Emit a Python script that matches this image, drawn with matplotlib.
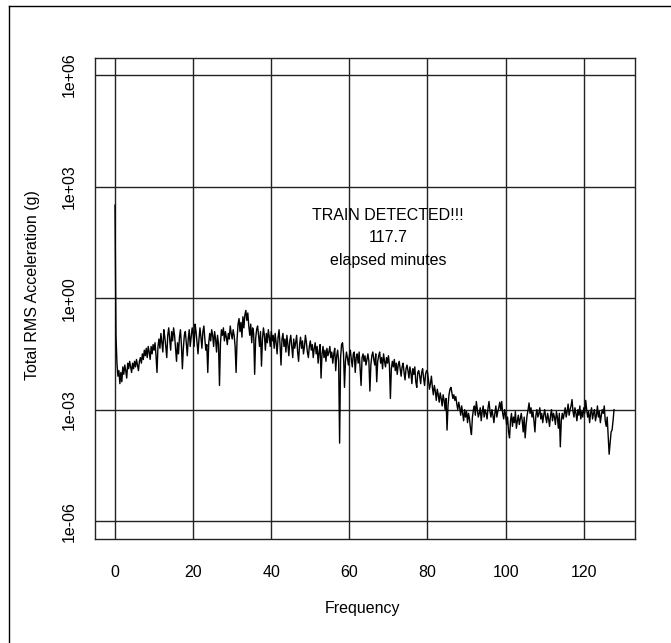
import numpy as np
import matplotlib
matplotlib.use("Agg")
import matplotlib.pyplot as plt
from matplotlib.lines import Line2D

plt.rcParams['font.family'] = ['Liberation Sans', 'DejaVu Sans']

# Frequency axis (Hz): bins 0.25 Hz apart starting at 0
freq_start = 0.0
freq_step = 0.25

# log10 of Total RMS Acceleration (g), 20 bins (5 Hz) per row
log10_accel = [
    2.5, -1.0, -1.75, -2.1, -1.95, -2.3, -2.0, -2.25, -1.85, -2.05, -1.8, -1.95, -2.15, -1.75, -1.9, -1.7, -1.85, -2.0, -1.75, -1.9,
    -1.7, -1.85, -1.65, -1.8, -1.95, -1.7, -1.6, -1.75, -1.5, -1.65, -1.4, -1.55, -1.35, -1.6, -1.3, -1.45, -1.65, -1.3, -1.5, -1.25,
    -1.4, -1.2, -1.55, -2.0, -1.3, -1.1, -1.35, -0.95, -1.2, -1.45, -0.85, -1.05, -1.3, -1.6, -1.0, -0.8, -1.1, -1.4, -0.9, -1.15,
    -0.8, -1.0, -1.35, -1.7, -1.2, -1.5, -1.05, -0.85, -1.25, -1.9, -1.35, -1.0, -0.9, -1.2, -1.55, -1.1, -0.85, -1.3, -1.05, -0.8,
    -0.95, -1.3, -0.7, -0.9, -1.2, -1.5, -1.1, -0.8, -1.05, -1.35, -0.9, -0.75, -1.1, -1.4, -1.25, -2.0, -1.2, -0.95, -1.15, -0.85,
    -1.0, -1.3, -0.9, -1.1, -1.45, -1.0, -1.25, -2.35, -1.2, -0.85, -1.0, -0.8, -1.15, -0.9, -1.05, -1.25, -0.95, -1.1, -0.75, -0.95,
    -1.1, -0.85, -1.0, -1.3, -2.0, -1.1, -0.7, -0.55, -0.9, -0.65, -1.05, -0.5, -0.8, -0.45, -0.33, -0.6, -0.4, -0.75, -1.0, -0.7,
    -1.2, -0.8, -0.95, -2.05, -1.1, -0.85, -0.75, -1.0, -1.3, -0.9, -1.83, -1.1, -0.8, -1.0, -1.4, -0.95, -1.2, -0.85, -1.05, -1.3,
    -0.9, -1.15, -1.0, -1.35, -0.95, -1.2, -1.5, -1.05, -0.85, -1.25, -1.8, -1.1, -0.95, -1.3, -1.1, -1.45, -1.0, -1.25, -1.55, -1.15,
    -1.0, -1.3, -1.6, -1.1, -1.35, -1.2, -1.0, -1.45, -1.7, -1.25, -1.05, -1.35, -1.15, -1.5, -1.3, -1.0, -1.2, -1.45, -1.6, -1.3,
    -1.15, -1.4, -1.25, -1.6, -1.35, -1.2, -1.5, -1.3, -1.75, -1.45, -1.25, -2.15, -1.5, -1.3, -1.6, -1.4, -1.7, -1.35, -1.55, -1.45,
    -1.3, -1.6, -1.45, -1.75, -1.5, -1.35, -1.95, -1.55, -1.4, -1.7, -3.9, -1.6, -1.25, -1.2, -1.5, -2.4, -1.7, -1.45, -1.6, -1.8,
    -1.55, -1.4, -1.65, -1.85, -1.5, -1.45, -2.0, -1.6, -1.5, -1.75, -1.45, -1.9, -2.35, -1.6, -1.5, -1.7, -1.55, -1.8, -1.65, -1.5,
    -1.7, -2.5, -1.8, -1.55, -1.45, -1.65, -1.8, -1.5, -2.25, -1.7, -1.55, -1.45, -1.75, -1.6, -1.9, -1.5, -1.7, -1.85, -1.6, -1.75,
    -1.55, -1.8, -2.7, -1.9, -1.7, -1.85, -1.65, -1.95, -1.75, -2.05, -1.8, -1.7, -1.9, -2.1, -1.85, -1.75, -2.0, -2.2, -1.9, -1.8,
    -1.95, -2.15, -1.85, -2.0, -2.3, -1.9, -2.05, -1.85, -2.25, -2.4, -2.0, -1.95, -2.1, -2.3, -2.0, -1.9, -2.15, -2.35, -2.05, -1.95,
    -2.0, -2.2, -2.45, -2.3, -2.1, -2.4, -2.6, -2.35, -2.5, -2.75, -2.45, -2.6, -2.8, -2.55, -2.7, -2.9, -2.6, -2.75, -3.0, -2.7,
    -3.55, -2.9, -2.6, -2.45, -2.4, -2.55, -2.7, -2.6, -2.75, -2.65, -2.85, -3.0, -2.8, -2.95, -3.15, -2.9, -3.1, -3.3, -3.0, -3.2,
    -3.05, -3.35, -3.1, -3.25, -3.5, -3.67, -3.2, -3.0, -2.9, -3.15, -2.78, -3.0, -3.2, -3.1, -2.95, -3.3, -3.05, -2.9, -3.2, -3.0,
    -3.1, -3.25, -2.95, -2.78, -3.05, -3.2, -3.0, -3.15, -3.35, -3.1, -2.9, -3.2, -3.05, -2.95, -2.8, -3.0, -2.78, -3.1, -3.25, -3.0,
    -3.15, -3.4, -3.2, -3.6, -3.76, -3.3, -3.1, -3.45, -3.2, -3.35, -3.05, -3.5, -3.3, -3.15, -3.4, -3.25, -3.1, -3.3, -3.6, -3.2,
    -3.76, -3.4, -3.15, -3.0, -2.82, -3.1, -2.95, -3.2, -3.05, -3.3, -3.6, -3.15, -3.0, -3.2, -3.1, -2.95, -3.25, -3.1, -3.35, -3.15,
    -3.0, -3.2, -3.35, -3.1, -3.25, -3.45, -3.15, -3.0, -3.3, -3.1, -3.2, -3.4, -3.05, -3.2, -3.5, -3.1, -4.0, -3.3, -3.1, -3.25,
    -3.1, -2.95, -3.2, -3.05, -2.85, -3.15, -3.0, -2.9, -2.73, -3.05, -3.2, -2.95, -3.1, -3.3, -3.0, -3.15, -2.9, -3.25, -3.05, -3.2,
    -2.95, -3.1, -2.75, -3.0, -3.2, -3.05, -3.35, -3.1, -2.95, -3.25, -3.1, -3.0, -3.3, -3.15, -2.9, -3.2, -3.05, -3.35, -3.15, -3.0,
    -3.1, -2.9, -3.3, -3.45, -3.2, -3.7, -4.2, -3.9, -3.6, -3.55, -3.3, -3.0,
]

x_ticks = [0, 20, 40, 60, 80, 100, 120]
y_ticks = [1e-6, 1e-3, 1e0, 1e3, 1e6]
y_tick_labels = ["1e-06", "1e-03", "1e+00", "1e+03", "1e+06"]

annotation_lines = ["TRAIN DETECTED!!!", "117.7", "elapsed minutes"]
x_label = "Frequency"
y_label = "Total RMS Acceleration (g)"

freq = freq_start + freq_step * np.arange(len(log10_accel))
accel = np.power(10.0, np.array(log10_accel))

W, H = 671, 643
fig = plt.figure(figsize=(W / 100, H / 100), dpi=100)
ax = fig.add_axes([95 / W, 1 - 539 / H, (635 - 95) / W, (539 - 58) / H])

ax.set_yscale('log')
ax.set_xlim(-5.12, 133.12)
ax.set_ylim(10 ** -6.48, 10 ** 6.46)

for xv in x_ticks:
    ax.axvline(xv, color='#222222', lw=1.0, zorder=1)
for yv in y_ticks:
    ax.axhline(yv, color='#222222', lw=1.0, zorder=1)

ax.plot(freq, accel, color='black', lw=1.0, zorder=3)

ax.set_xticks(x_ticks)
ax.set_xticklabels([str(v) for v in x_ticks])
ax.set_yticks(y_ticks)
ax.set_yticklabels(y_tick_labels)
ax.yaxis.set_minor_locator(matplotlib.ticker.NullLocator())
ax.tick_params(axis='x', length=0, pad=19, labelsize=11.5)
ax.tick_params(axis='y', length=0, pad=13, labelsize=11.5, labelrotation=90)
for lab in ax.get_yticklabels():
    lab.set_verticalalignment('center')

for sp in ax.spines.values():
    sp.set_color('#222222')
    sp.set_linewidth(1.0)

fig.text(362 / W, 1 - 608 / H, x_label, ha='center', va='center', fontsize=11.5)
fig.text(33 / W, 1 - 285 / H, y_label, ha='center', va='center', rotation=90, fontsize=11.5)

ann_y_px = [215, 238, 260]
for txt, ypx in zip(annotation_lines, ann_y_px):
    fig.text(388 / W, 1 - ypx / H, txt, ha='center', va='center', fontsize=11.5)

# outer frame of the screenshot
fig.add_artist(Line2D([9.3 / W, 9.3 / W], [0, 1 - 5.7 / H], transform=fig.transFigure, color='black', lw=1.0))
fig.add_artist(Line2D([9.3 / W, 1], [1 - 5.7 / H, 1 - 5.7 / H], transform=fig.transFigure, color='black', lw=1.0))

fig.savefig("out.png", dpi=100)
